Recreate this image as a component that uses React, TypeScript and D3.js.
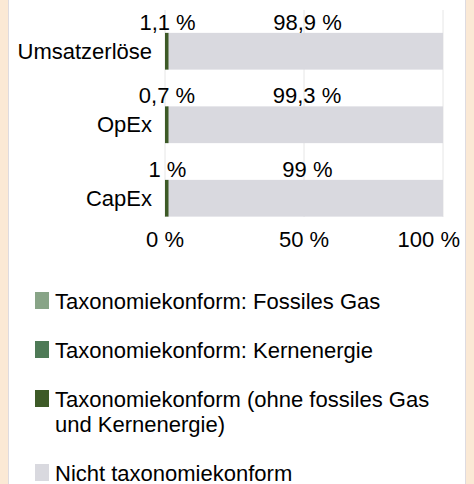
import React from "react";
import * as d3 from "d3";

const categories = ["Umsatzerlöse", "OpEx", "CapEx"];
const aligned = [1.1, 0.7, 1];
const notAligned = [98.9, 99.3, 99];
const alignedLabels = ["1,1 %", "0,7 %", "1 %"];
const notAlignedLabels = ["98,9 %", "99,3 %", "99 %"];
const ticks = [0, 50, 100];
const tickLabels = ["0 %", "50 %", "100 %"];
const legendItems = [
  ["Taxonomiekonform: Fossiles Gas"],
  ["Taxonomiekonform: Kernenergie"],
  ["Taxonomiekonform (ohne fossiles Gas", "und Kernenergie)"],
  ["Nicht taxonomiekonform"],
];
const legendColors = ["#88a487", "#4e7a56", "#3d5a27", "#d9d9df"];

const W = 474;
const H = 484;
const font = "'Liberation Sans', Arial, sans-serif";
const fs = 22;

const App = () => {
  const x = d3.scaleLinear().domain([0, 100]).range([165, 443]);
  const y = d3
    .scaleBand()
    .domain(categories)
    .range([14.5, 235])
    .paddingInner(0.5)
    .paddingOuter(0.25);
  const bw = y.bandwidth();

  let legendY = 292;
  const legendRows = legendItems.map((lines, i) => {
    const top = legendY;
    legendY += 49 + (lines.length - 1) * 25;
    return { lines, top, color: legendColors[i] };
  });

  return (
    <div style={{ position: "fixed", left: 0, top: 0 }}>
      <svg width={W} height={H} style={{ display: "block" }}>
        <rect x={0} y={0} width={W} height={H} fill="#fbe9d5" />
        <rect x={8.5} y={-1} width={457} height={H + 2} fill="#fff" stroke="#dedbe0" />
        {ticks.map((t) => (
          <line key={t} x1={x(t)} x2={x(t)} y1={10} y2={217} stroke="#e6e6e6" strokeWidth={1} />
        ))}
        {categories.map((c, i) => {
          const y0 = y(c) as number;
          return (
            <g key={c}>
              <rect x={x(aligned[i])} y={y0} width={x(aligned[i] + notAligned[i]) - x(aligned[i])} height={bw} fill={legendColors[3]} />
              <rect x={x(0)} y={y0} width={Math.max(x(aligned[i]) - x(0), 3.5)} height={bw} fill={legendColors[2]} />
              <text x={152} y={y0 + bw / 2} dy="0.35em" textAnchor="end" fontFamily={font} fontSize={fs} fill="#000">{c}</text>
              <text x={x(aligned[i] / 2) + 1} y={y0 - 3} textAnchor="middle" fontFamily={font} fontSize={fs} fill="#000">{alignedLabels[i]}</text>
              <text x={x(aligned[i] + notAligned[i] / 2) + 2} y={y0 - 3} textAnchor="middle" fontFamily={font} fontSize={fs} fill="#000">{notAlignedLabels[i]}</text>
            </g>
          );
        })}
        {ticks.map((t, i) => {
          const last = i === ticks.length - 1;
          return (
            <text key={t} x={last ? x(t) + 17 : x(t)} y={247} textAnchor={last ? "end" : "middle"} fontFamily={font} fontSize={fs} fill="#000">
              {tickLabels[i]}
            </text>
          );
        })}
        {legendRows.map((r) => (
          <g key={r.lines[0]}>
            <rect x={35} y={r.top} width={14} height={17} fill={r.color} />
            {r.lines.map((l, j) => (
              <text key={j} x={55} y={r.top + 17 + j * 25} fontFamily={font} fontSize={fs} fill="#000">{l}</text>
            ))}
          </g>
        ))}
      </svg>
    </div>
  );
};

export default App;
